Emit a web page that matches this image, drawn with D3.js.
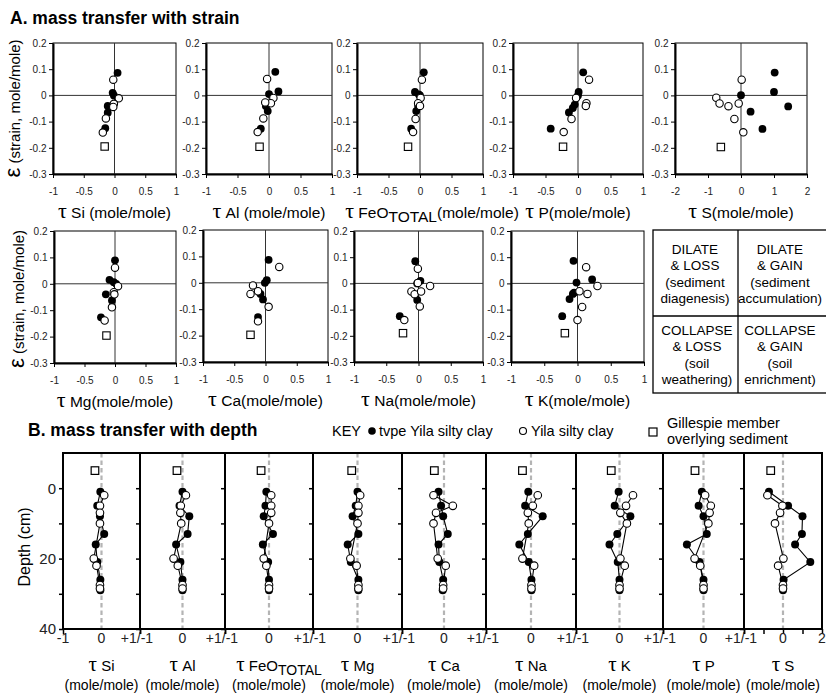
<!DOCTYPE html>
<html><head><meta charset="utf-8">
<script src="https://cdn.jsdelivr.net/npm/d3@7"></script>
<style>body{margin:0;background:#fff} svg{display:block;font-family:"Liberation Sans",Arial,sans-serif}</style>
</head><body>
<svg id="c" width="826" height="694"></svg>
<script>
// ---------- DATA ----------
// Part A: [tau, strain] pairs
const siStrainFilled = [[0.05,0.086],[-0.03,0.01],[-0.01,0.0],[-0.11,-0.04],[-0.11,-0.066],[-0.15,-0.125]];
const siStrainOpen   = [[-0.02,0.06],[0.07,-0.011],[-0.01,-0.032],[-0.02,-0.044],[-0.14,-0.088],[-0.19,-0.142]];
const siStrainSquare = [[-0.16,-0.195]];
const alStrainFilled = [[0.1,0.09],[0.15,0.015],[0.0,0.005],[-0.05,-0.04],[-0.02,-0.06],[-0.13,-0.127]];
const alStrainOpen   = [[-0.03,0.063],[0.07,-0.01],[0.03,-0.03],[-0.06,-0.027],[-0.09,-0.088],[-0.18,-0.14]];
const alStrainSquare = [[-0.15,-0.196]];
const feStrainFilled = [[0.06,0.088],[-0.08,0.013],[-0.02,0.004],[0,0],[-0.03,-0.04],[-0.06,-0.06],[-0.14,-0.127]];
const feStrainOpen   = [[0.03,0.06],[0.01,-0.01],[-0.03,-0.03],[0,-0.04],[-0.07,-0.09],[-0.11,-0.14]];
const feStrainSquare = [[-0.19,-0.196]];
const pStrainFilled  = [[0.08,0.088],[0.01,0.013],[0,0],[-0.05,-0.035],[-0.08,-0.048],[-0.14,-0.065],[-0.42,-0.127]];
const pStrainOpen    = [[0.17,0.06],[-0.03,-0.01],[0.13,-0.03],[0.12,-0.04],[-0.1,-0.09],[-0.22,-0.14]];
const pStrainSquare  = [[-0.23,-0.196]];
const sStrainFilled  = [[1.02,0.087],[1.0,0.013],[0,0.001],[0.29,-0.062],[1.43,-0.042],[0.65,-0.128]];
const sStrainOpen    = [[0.02,0.06],[-0.75,-0.009],[-0.65,-0.031],[-0.38,-0.041],[-0.07,-0.031],[-0.2,-0.09],[0.07,-0.141]];
const sStrainSquare  = [[-0.61,-0.197]];
const mgStrainFilled = [[0,0.089],[-0.09,0.015],[-0.02,0.006],[0.02,0],[-0.15,-0.04],[-0.05,-0.063],[-0.23,-0.127]];
const mgStrainOpen   = [[0,0.061],[0.05,-0.009],[-0.02,-0.032],[-0.01,-0.04],[-0.05,-0.089],[-0.17,-0.139]];
const mgStrainSquare = [[-0.14,-0.196]];
const caStrainFilled = [[0.05,0.087],[0.02,0.01],[-0.01,0],[-0.08,-0.042],[-0.04,-0.063],[-0.12,-0.13]];
const caStrainOpen   = [[0.22,0.06],[-0.2,-0.01],[-0.12,-0.032],[-0.24,-0.042],[0.05,-0.091],[-0.12,-0.146]];
const caStrainSquare = [[-0.24,-0.197]];
const naStrainFilled = [[-0.05,0.085],[0.03,0.01],[-0.02,0],[-0.02,-0.063],[-0.29,-0.125]];
const naStrainOpen   = [[-0.01,0.056],[0.18,-0.01],[-0.01,0.002],[-0.11,-0.031],[-0.06,-0.041],[0.04,-0.031],[0.02,-0.088],[-0.22,-0.14]];
const naStrainSquare = [[-0.24,-0.19]];
const kStrainFilled  = [[-0.06,0.086],[-0.015,0.003],[0.22,0.015],[-0.05,-0.035],[-0.07,-0.04],[-0.12,-0.06],[-0.23,-0.125]];
const kStrainOpen    = [[0.13,0.062],[0.3,-0.01],[0.03,-0.03],[0.15,-0.04],[0.07,-0.09],[0,-0.14]];
const kStrainSquare  = [[-0.19,-0.19]];

// Part B: depths (cm) and tau values
const depthFilled = [1, 5, 8, 13, 16, 21, 26, 29];
const depthOpen   = [2, 5, 7, 10, 20, 22, 27.5, 28.5];
const depthSquare = -5;
const siDepthFilled = [-0.03,-0.11,-0.04,0.07,-0.15,-0.11,-0.03,-0.03];
const siDepthOpen   = [0.07,-0.04,-0.04,-0.04,-0.2,-0.13,-0.04,-0.04];
const alDepthFilled = [0,-0.07,0.16,0.12,-0.15,-0.05,0,0];
const alDepthOpen   = [0.08,-0.04,-0.05,-0.03,-0.21,-0.11,0,0];
const feDepthFilled = [-0.06,-0.08,-0.12,0.09,-0.14,-0.02,0,0];
const feDepthOpen   = [0.05,0.05,0.05,0.0,-0.12,-0.06,0,0];
const mgDepthFilled = [0,-0.04,-0.11,0.02,-0.22,-0.15,0.02,0.02];
const mgDepthOpen   = [0.06,0.02,0.02,0,-0.16,-0.02,0.02,0.02];
const caDepthFilled = [-0.13,-0.07,-0.02,0.09,-0.13,-0.11,-0.02,-0.03];
const caDepthOpen   = [-0.25,0.21,-0.19,-0.25,-0.15,0.04,-0.02,-0.02];
const naDepthFilled = [-0.06,-0.13,0.26,-0.07,-0.26,-0.05,0.01,0.01];
const naDepthOpen   = [0.15,0.04,-0.07,-0.05,-0.19,0.07,0.01,0.01];
const kDepthFilled  = [-0.02,-0.11,0.25,-0.05,-0.23,-0.04,0,0];
const kDepthOpen    = [0.31,0.15,0.02,0.17,0.02,0.12,0,0];
const pDepthFilled  = [-0.04,-0.12,0,0.08,-0.41,-0.1,0,0];
const pDepthOpen    = [0.04,0.18,0.15,0.12,-0.22,-0.08,0,0];
const sDepthFilled  = [-0.72,0.26,1.0,0.97,0.62,1.4,0.03,0];
const sDepthOpen    = [-0.8,-0.03,-0.15,-0.41,0.02,-0.25,0,0];
const depthSquareTau = [-0.17,-0.13,-0.18,-0.13,-0.23,-0.19,-0.19,-0.21,-0.63];

// tick labels / categories
const strainTicks = [0.2,0.1,0,-0.1,-0.2,-0.3];
const tauTicks = [-1,-0.5,0,0.5,1];
const tauTicksS = [-2,-1,0,1,2];
const depthTicks = [0,10,20,30,40];
const depthTickLabels = [0,20,40];
const depthElements = ["Si","Al","FeO","Mg","Ca","Na","K","P","S"];
const quadrantText = [
  ["DILATE","& LOSS","(sediment","diagenesis)"],
  ["DILATE","& GAIN","(sediment","accumulation)"],
  ["COLLAPSE","& LOSS","(soil","weathering)"],
  ["COLLAPSE","& GAIN","(soil","enrichment)"]
];

// ---------- DRAW ----------
const svg = d3.select("#c");
const SANS = '"Liberation Sans",Arial,sans-serif';
const SERIF = '"Liberation Serif","DejaVu Serif",serif';

svg.append("text").attr("x",10).attr("y",24).attr("font-size",17.5).attr("font-weight","bold").text("A. mass transfer with strain");
svg.append("text").attr("x",28).attr("y",436).attr("font-size",17.5).attr("font-weight","bold").text("B. mass transfer with depth");

const strainPanels = [
  {name:"Si", sep:" ", f:siStrainFilled, o:siStrainOpen, q:siStrainSquare, x0:53,x1:176,y0:43,y1:174, dom:[-1,1], ticks:tauTicks},
  {name:"Al", sep:" ", f:alStrainFilled, o:alStrainOpen, q:alStrainSquare, x0:206,x1:332,y0:43,y1:174, dom:[-1,1], ticks:tauTicks},
  {name:"FeO", sub:"TOTAL", sep:"", f:feStrainFilled, o:feStrainOpen, q:feStrainSquare, x0:357,x1:483,y0:43,y1:174, dom:[-1,1], ticks:tauTicks},
  {name:"P", sep:"", f:pStrainFilled, o:pStrainOpen, q:pStrainSquare, x0:513,x1:643,y0:43,y1:174, dom:[-1,1], ticks:tauTicks},
  {name:"S", sep:"", f:sStrainFilled, o:sStrainOpen, q:sStrainSquare, x0:675,x1:807,y0:43,y1:174, dom:[-2,2], ticks:tauTicksS},
  {name:"Mg", sep:"", f:mgStrainFilled, o:mgStrainOpen, q:mgStrainSquare, x0:54,x1:176,y0:231,y1:363, dom:[-1,1], ticks:tauTicks},
  {name:"Ca", sep:"", f:caStrainFilled, o:caStrainOpen, q:caStrainSquare, x0:203,x1:328,y0:230,y1:362, dom:[-1,1], ticks:tauTicks},
  {name:"Na", sep:"", f:naStrainFilled, o:naStrainOpen, q:naStrainSquare, x0:354,x1:483,y0:231,y1:362, dom:[-1,1], ticks:tauTicks},
  {name:"K", sep:"", f:kStrainFilled, o:kStrainOpen, q:kStrainSquare, x0:511,x1:644,y0:231,y1:362, dom:[-1,1], ticks:tauTicks}
];

function styleAxis(a, fs){
  a.attr("font-family",SANS).attr("font-size",fs);
  a.selectAll("text").attr("fill","#222");
  a.selectAll(".tick line").attr("stroke","#000");
}

strainPanels.forEach(p=>{
  const x = d3.scaleLinear().domain(p.dom).range([p.x0,p.x1]);
  const y = d3.scaleLinear().domain([-0.3,0.2]).range([p.y1,p.y0]);
  const g = svg.append("g");
  g.append("rect").attr("x",p.x0).attr("y",p.y0).attr("width",p.x1-p.x0).attr("height",p.y1-p.y0)
    .attr("fill","none").attr("stroke","#000").attr("stroke-width",1);
  g.append("line").attr("x1",x(0)).attr("x2",x(0)).attr("y1",p.y0).attr("y2",p.y1).attr("stroke","#333").attr("stroke-width",1);
  g.append("line").attr("x1",p.x0).attr("x2",p.x1).attr("y1",y(0)).attr("y2",y(0)).attr("stroke","#333").attr("stroke-width",1);
  const ay = g.append("g").attr("transform",`translate(${p.x0},0)`)
    .call(d3.axisLeft(y).tickValues(strainTicks).tickSize(4).tickSizeOuter(0).tickPadding(2.5).tickFormat(d=>String(d)));
  const ax = g.append("g").attr("transform",`translate(0,${p.y1})`)
    .call(d3.axisBottom(x).tickValues(p.ticks).tickSize(4).tickSizeOuter(0).tickPadding(10).tickFormat(d=>String(d)));
  [ay,ax].forEach(a=>{styleAxis(a,10); a.select(".domain").attr("stroke","#000").attr("stroke-width",2);});
  g.selectAll(".sq").data(p.q).join("rect").attr("x",d=>x(d[0])-3.7).attr("y",d=>y(d[1])-3.7)
    .attr("width",7.4).attr("height",7.4).attr("fill","#fff").attr("stroke","#000").attr("stroke-width",1.1);
  g.selectAll(".fc").data(p.f).join("circle").attr("cx",d=>x(d[0])).attr("cy",d=>y(d[1])).attr("r",3.9).attr("fill","#000");
  g.selectAll(".oc").data(p.o).join("circle").attr("cx",d=>x(d[0])).attr("cy",d=>y(d[1])).attr("r",3.7)
    .attr("fill","#fff").attr("stroke","#000").attr("stroke-width",1.1);
  // label
  const t = svg.append("text").attr("x",(p.x0+p.x1)/2 + (p.sub?12:0)).attr("y",p.y1+44).attr("text-anchor","middle").attr("font-size",15.5);
  t.append("tspan").attr("font-family",SERIF).attr("font-size",22).text("τ");
  t.append("tspan").text(" "+p.name);
  if(p.sub){
    t.append("tspan").attr("dy",4).text(p.sub);
    t.append("tspan").attr("dy",-4).text("(mole/mole)");
  } else {
    t.append("tspan").text(p.sep+"(mole/mole)");
  }
});

// epsilon labels
[[20,108.5],[24,299]].forEach(([lx,ly])=>{
  const t = svg.append("text").attr("transform",`translate(${lx},${ly}) rotate(-90)`).attr("text-anchor","middle").attr("font-size",15);
  t.append("tspan").attr("font-size",22).text("ε");
  t.append("tspan").text(" (strain, mole/mole)");
});

// quadrant box
const qb = svg.append("g");
qb.append("rect").attr("x",653).attr("y",230).attr("width",180).attr("height",163).attr("fill","none").attr("stroke","#000").attr("stroke-width",1.3);
qb.append("line").attr("x1",738).attr("x2",738).attr("y1",230).attr("y2",393).attr("stroke","#000").attr("stroke-width",1.3);
qb.append("line").attr("x1",653).attr("x2",826).attr("y1",316).attr("y2",316).attr("stroke","#000").attr("stroke-width",1.3);
const qPos = [[695,254],[780,254],[697,335],[780,335]];
quadrantText.forEach((lines,i)=>{
  lines.forEach((s,j)=>{
    qb.append("text").attr("x",qPos[i][0]).attr("y",qPos[i][1]+j*16.4).attr("text-anchor","middle").attr("font-size",13.5).text(s);
  });
});

// ---------- Part B ----------
const depthLayout = [[63,140],[140,225],[225,313],[313,402],[402,486],[486,576],[576,663],[663,744],[744,822]];
const depthFilledSeries = [siDepthFilled,alDepthFilled,feDepthFilled,mgDepthFilled,caDepthFilled,naDepthFilled,kDepthFilled,pDepthFilled,sDepthFilled];
const depthOpenSeries = [siDepthOpen,alDepthOpen,feDepthOpen,mgDepthOpen,caDepthOpen,naDepthOpen,kDepthOpen,pDepthOpen,sDepthOpen];
const yD = d3.scaleLinear().domain([-10,40]).range([453,629]);
const line = d3.line();

depthLayout.forEach((lay,i)=>{
  const isS = depthElements[i]==="S";
  const x = d3.scaleLinear().domain(isS?[-2,2]:[-1,1]).range(lay);
  const g = svg.append("g");
  g.append("line").attr("x1",x(0)).attr("x2",x(0)).attr("y1",453).attr("y2",629)
    .attr("stroke","#b4b4b4").attr("stroke-width",2.2).attr("stroke-dasharray","4.5,3");
  const fPts = depthFilledSeries[i].map((v,k)=>[x(v),yD(depthFilled[k])]);
  const oPts = depthOpenSeries[i].map((v,k)=>[x(v),yD(depthOpen[k])]);
  g.append("path").attr("d",line(fPts)).attr("fill","none").attr("stroke","#000").attr("stroke-width",1.1);
  g.append("path").attr("d",line(oPts)).attr("fill","none").attr("stroke","#000").attr("stroke-width",1.1);
  g.selectAll(".fc").data(fPts).join("circle").attr("cx",d=>d[0]).attr("cy",d=>d[1]).attr("r",4).attr("fill","#000");
  g.selectAll(".oc").data(oPts).join("circle").attr("cx",d=>d[0]).attr("cy",d=>d[1]).attr("r",3.8)
    .attr("fill","#fff").attr("stroke","#000").attr("stroke-width",1.1);
  g.append("rect").attr("x",x(depthSquareTau[i])-3.8).attr("y",yD(depthSquare)-3.8).attr("width",7.6).attr("height",7.6)
    .attr("fill","#fff").attr("stroke","#000").attr("stroke-width",1.2);
  g.append("rect").attr("x",lay[0]).attr("y",453).attr("width",lay[1]-lay[0]).attr("height",176)
    .attr("fill","none").attr("stroke","#000").attr("stroke-width",2);
  const ay = g.append("g").attr("transform",`translate(${lay[0]},0)`)
    .call(d3.axisLeft(yD).tickValues(depthTicks).tickSize(4).tickSizeOuter(0).tickPadding(3)
      .tickFormat(d=> (i===0 && depthTickLabels.includes(d)) ? String(d) : ""));
  ay.select(".domain").remove();
  styleAxis(ay,15);
  ay.selectAll(".tick line").attr("stroke-width",1.5);
  const ax = g.append("g").attr("transform","translate(0,629)")
    .call(d3.axisBottom(x).tickValues(isS?tauTicksS:[-1,1]).tickSize(5).tickSizeOuter(0).tickFormat(""));
  ax.select(".domain").remove();
  ax.selectAll(".tick line").attr("stroke","#000").attr("stroke-width",1.5);
  // tick labels
  const lbl = (xx,s)=>svg.append("text").attr("x",xx).attr("y",643).attr("text-anchor","middle").attr("font-size",14).attr("fill","#222").text(s);
  if(i===0) lbl(x(-1),"-1");
  lbl(x(0),"0");
  if(i<depthLayout.length-1) lbl(lay[1]-3,"+1/-1"); else lbl(x(2),"2");
  // element labels
  const cx = (lay[0]+lay[1])/2;
  const isFe = depthElements[i]==="FeO";
  const t = svg.append("text").attr("x",cx + (isFe?10:0)).attr("y",671).attr("text-anchor","middle").attr("font-size",15);
  t.append("tspan").attr("font-family",SERIF).attr("font-size",21).text("τ");
  t.append("tspan").text(" "+depthElements[i]);
  if(isFe) t.append("tspan").attr("dy",4).attr("font-size",14).text("TOTAL");
  svg.append("text").attr("x",cx).attr("y",690).attr("text-anchor","middle").attr("font-size",14).text("(mole/mole)");
});

svg.append("text").attr("transform","translate(30,547) rotate(-90)").attr("text-anchor","middle").attr("font-size",16).text("Depth (cm)");

// key
const key = svg.append("g").attr("font-size",14.5);
key.append("text").attr("x",332).attr("y",436).text("KEY");
key.append("circle").attr("cx",372).attr("cy",431).attr("r",3.8).attr("fill","#000");
key.append("text").attr("x",379).attr("y",436).text("tvpe Yila silty clay");
key.append("circle").attr("cx",523).attr("cy",431).attr("r",3.5).attr("fill","#fff").attr("stroke","#000").attr("stroke-width",1.1);
key.append("text").attr("x",531).attr("y",436).text("Yila silty clay");
key.append("rect").attr("x",649).attr("y",428).attr("width",8).attr("height",8).attr("fill","#fff").attr("stroke","#000").attr("stroke-width",1.2);
key.append("text").attr("x",667).attr("y",428).text("Gillespie member");
key.append("text").attr("x",667).attr("y",444).text("overlying sediment");
</script>
</body></html>
